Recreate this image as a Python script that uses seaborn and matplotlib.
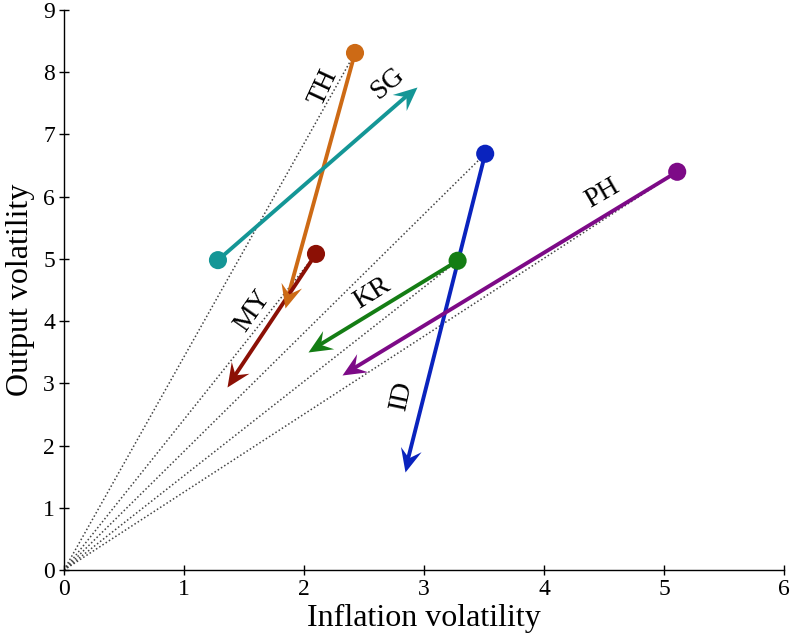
import numpy as np
import matplotlib
matplotlib.use('Agg')
import matplotlib.pyplot as plt
import seaborn as sns
import pandas as pd
from matplotlib.path import Path
from matplotlib.markers import MarkerStyle

# Data
countries = ['TH', 'SG', 'MY', 'KR', 'ID', 'PH']
x_start = [2.425, 1.283, 2.10, 3.28, 3.51, 5.11]
y_start = [8.31, 4.98, 5.08, 4.97, 6.69, 6.40]
x_end = [1.84, 2.94, 1.36, 2.03, 2.84, 2.32]
y_end = [4.21, 7.76, 2.94, 3.50, 1.58, 3.13]
has_ray = [True, False, True, True, True, True]
colors = ['#cd6a15', '#149696', '#8c1005', '#147d14', '#0a23be', '#7d0a87']

# label placement (x, y, rotation)
label_x = [2.16, 2.70, 1.57, 2.57, 2.81, 4.49]
label_y = [7.75, 7.82, 4.17, 4.45, 2.81, 6.05]
label_rot = [65, 40, 55, 32, 78, 30]

df = pd.DataFrame({'country': countries, 'x0': x_start, 'y0': y_start,
                   'x1': x_end, 'y1': y_end})
palette = dict(zip(countries, colors))

sns.set_style('ticks')
plt.rcParams['font.family'] = ['Liberation Serif', 'DejaVu Serif']
plt.rcParams['text.color'] = 'black'
plt.rcParams['axes.labelcolor'] = 'black'

fig = plt.figure(figsize=(7.92, 6.36), dpi=100)
ax = fig.add_axes([64/792, 1-570/636, 720/792, 560/636])
ax.set_xlim(0, 6)
ax.set_ylim(0, 9)


def stealth(angle):
    verts = [(0, 0), (-1, 0.45), (-0.62, 0), (-1, -0.45), (0, 0)]
    codes = [Path.MOVETO, Path.LINETO, Path.LINETO, Path.LINETO, Path.CLOSEPOLY]
    return MarkerStyle(Path(verts, codes)).rotated(deg=angle)


head_ms = 34  # marker size in points -> head length = ms/2
for i, c in enumerate(countries):
    col = palette[c]
    # dotted ray from origin
    if has_ray[i]:
        ax.plot([0, x_start[i]], [0, y_start[i]], color='#444444',
                linestyle=(0, (1, 1.5)), lw=1.1, zorder=1)
    # arrow direction in display space
    p0 = ax.transData.transform((x_start[i], y_start[i]))
    p1 = ax.transData.transform((x_end[i], y_end[i]))
    d = p1 - p0
    ang = np.degrees(np.arctan2(d[1], d[0]))
    u = d / np.hypot(*d)
    back = head_ms / 2 * 100 / 72 * 0.5
    p1s = ax.transData.inverted().transform(p1 - u * back)
    ax.plot([x_start[i], p1s[0]], [y_start[i], p1s[1]], color=col, lw=2.8,
            solid_capstyle='butt', zorder=2)
    ax.plot([x_end[i]], [y_end[i]], marker=stealth(ang), markersize=head_ms,
            color=col, markeredgewidth=0, linestyle='none', zorder=3)
    ax.text(label_x[i], label_y[i], c, rotation=label_rot[i],
            rotation_mode='anchor', ha='center', va='center', fontsize=20)

sns.scatterplot(data=df, x='x0', y='y0', hue='country', palette=palette,
                s=170, linewidth=0, legend=False, ax=ax, zorder=4)

ax.set_xticks(range(0, 7))
ax.set_yticks(range(0, 10))
ax.tick_params(direction='inout', length=7, width=1, labelsize=17, pad=3,
               color='black', labelcolor='black')
for s in ['left', 'bottom']:
    ax.spines[s].set_color('black')
    ax.spines[s].set_linewidth(1)
sns.despine(ax=ax)
ax.set_xlabel('Inflation volatility', fontsize=23, labelpad=3)
ax.set_ylabel('Output volatility', fontsize=23, labelpad=6)

fig.savefig('out.png', dpi=100)
